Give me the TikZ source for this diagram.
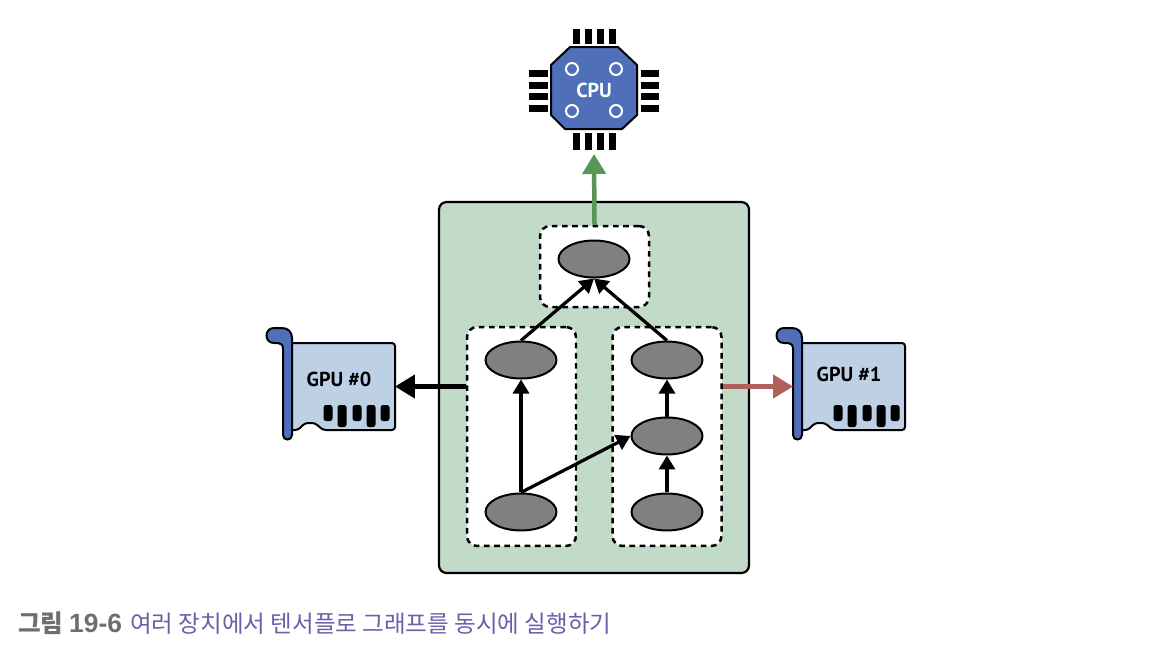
\documentclass[tikz,border=0pt]{standalone}
\usepackage{fontspec}
\usepackage{tikz}
\usetikzlibrary{arrows.meta, calc, shapes.geometric}
\setsansfont{PT Sans}
\newfontfamily\krfont{Noto Sans CJK KR}
\newfontfamily\numfont{Liberation Sans}
\definecolor{panel_green}{HTML}{C2DBC8}
\definecolor{chip_blue}{HTML}{4F6FB8}
\definecolor{card_blue}{HTML}{BDD0E6}
\definecolor{op_gray}{HTML}{808080}
\definecolor{arrow_green}{HTML}{5A9558}
\definecolor{arrow_red}{HTML}{B0605A}
\definecolor{caption_gray}{HTML}{6D6E71}
\definecolor{caption_purple}{HTML}{6A5FA8}
\tikzstyle{edge} = [line width=0.065cm, -{Triangle[length=0.28cm,width=0.32cm]}]
\tikzstyle{link} = [line width=0.09cm, -{Triangle[length=0.4cm,width=0.46cm]}]
\tikzstyle{op} = [ellipse, draw, line width=0.04cm, fill=op_gray, inner sep=0pt, minimum width=1.42cm, minimum height=0.74cm]
\tikzstyle{devicebox} = [draw, dash pattern=on 3.2pt off 2.6pt, line width=0.05cm, fill=white, rounded corners=0.2cm, inner sep=0pt, minimum width=2.18cm]
\tikzstyle{pin} = [fill=black]
\tikzstyle{contact} = [fill=black, rounded corners=0.05cm]
\newcommand{\gpucard}[3]{
    \begin{scope}[shift={(#1,0)}]
        \draw[line width=0.04cm, rounded corners=0.06cm, fill=card_blue] (290,343) -- (395,343) -- (395,430) -- (323,430) -- (315,423) -- (305,423) -- (298,430) -- (290,430) -- cycle;
        \draw[line width=0.04cm, fill=chip_blue] (274,343) .. controls (264,343) and (264,328) .. (274,328) -- (282,328) .. controls (288,328) and (292,332) .. (292,338) -- (292,435) .. controls (292,441) and (283,441) .. (283,435) -- (283,349) .. controls (283,345) and (281,343) .. (278,343) -- cycle;
        \foreach \cx/\cb in {328/421,342/427,357/421,371/427,385/421}
            \fill[contact] (\cx-4.5,405) rectangle (\cx+4.5,\cb);
        \node (#2_card) [inner sep=0pt, outer sep=0pt, minimum width=2.24cm, minimum height=1.74cm] at (339,386.5) {};
        \node (#2_label) [font=\sffamily\bfseries\fontsize{11.5}{13}\selectfont] at (339,#3) {GPU \##2};
    \end{scope}
}
\begin{document}
\begin{tikzpicture}[x=0.02cm, y=-0.02cm]
    \useasboundingbox (0,0) rectangle (1158,664);
    \node (panel) [draw, line width=0.045cm, fill=panel_green, rounded corners=0.15cm, minimum width=6.2cm, minimum height=7.42cm] at (594,387.5) {};
    \node (box_top) [devicebox, minimum height=1.62cm] at (594.5,266.5) {};
    \node (box_left) [devicebox, minimum height=4.38cm] at (521.5,436.5) {};
    \node (box_right) [devicebox, minimum height=4.38cm] at (667,436.5) {};
    \node (op_top) [op] at (594,259) {};
    \node (op_l1) [op] at (521,360) {};
    \node (op_l2) [op, below of=op_l1, node distance=3.04cm] {};
    \node (op_r1) [op, right of=op_l1, node distance=2.92cm] {};
    \node (op_r2) [op, below of=op_r1, node distance=1.52cm] {};
    \node (op_r3) [op, below of=op_r2, node distance=1.52cm] {};
    \draw [edge] (op_l2.north) -- (op_l1.south);
    \draw [edge] (op_l2.north) -- (op_r2.west);
    \draw [edge] (op_r3.north) -- (op_r2.south);
    \draw [edge] (op_r2.north) -- (op_r1.south);
    \draw [edge] (op_l1.north) -- (op_top.south);
    \draw [edge] (op_r1.north) -- (op_top.south);
    \foreach \px in {576,588,600,612} {
        \fill[pin] (\px-3.5,29) rectangle (\px+3.5,44);
        \fill[pin] (\px-3.5,133) rectangle (\px+3.5,150);
    }
    \foreach \py in {73,85,96,108} {
        \fill[pin] (529,\py-3.5) rectangle (548,\py+3.5);
        \fill[pin] (641,\py-3.5) rectangle (659,\py+3.5);
    }
    \draw[line width=0.04cm, fill=chip_blue] (570,47) -- (618,47) -- (637,65) -- (637,115) -- (622,129) -- (565,129) -- (551,115) -- (551,65) -- cycle;
    \foreach \cx/\cy in {572/69,616/69,572/111,616/111}
        \draw[white, line width=0.04cm] (\cx,\cy) circle (6);
    \node (cpu) [text=white, font=\sffamily\bfseries\fontsize{11.5}{13}\selectfont, inner sep=0pt] at (594,90) {CPU};
    \coordinate (cpu_port) at (594,154);
    \gpucard{0}{0}{379}
    \gpucard{510}{1}{374}
    \draw [link] (box_left.west |- 0_card.east) -- (0_card.east);
    \draw [link, arrow_red] (box_right.east |- 1_card.west) -- (1_card.west);
    \draw [link, arrow_green] (box_top.north) -- (cpu_port);
    \node (caption) [anchor=west, inner sep=0pt, font=\krfont\fontsize{13.4}{15}\selectfont] at (18,623) {\textcolor{caption_gray}{{\fontsize{14}{15}\selectfont\textbf{그림 }}{\numfont\bfseries\fontsize{15}{15}\selectfont 19-6}}\hspace{0.06cm} \textcolor{caption_purple}{여러 장치에서 텐서플로 그래프를 동시에 실행하기}};
\end{tikzpicture}
\end{document}
